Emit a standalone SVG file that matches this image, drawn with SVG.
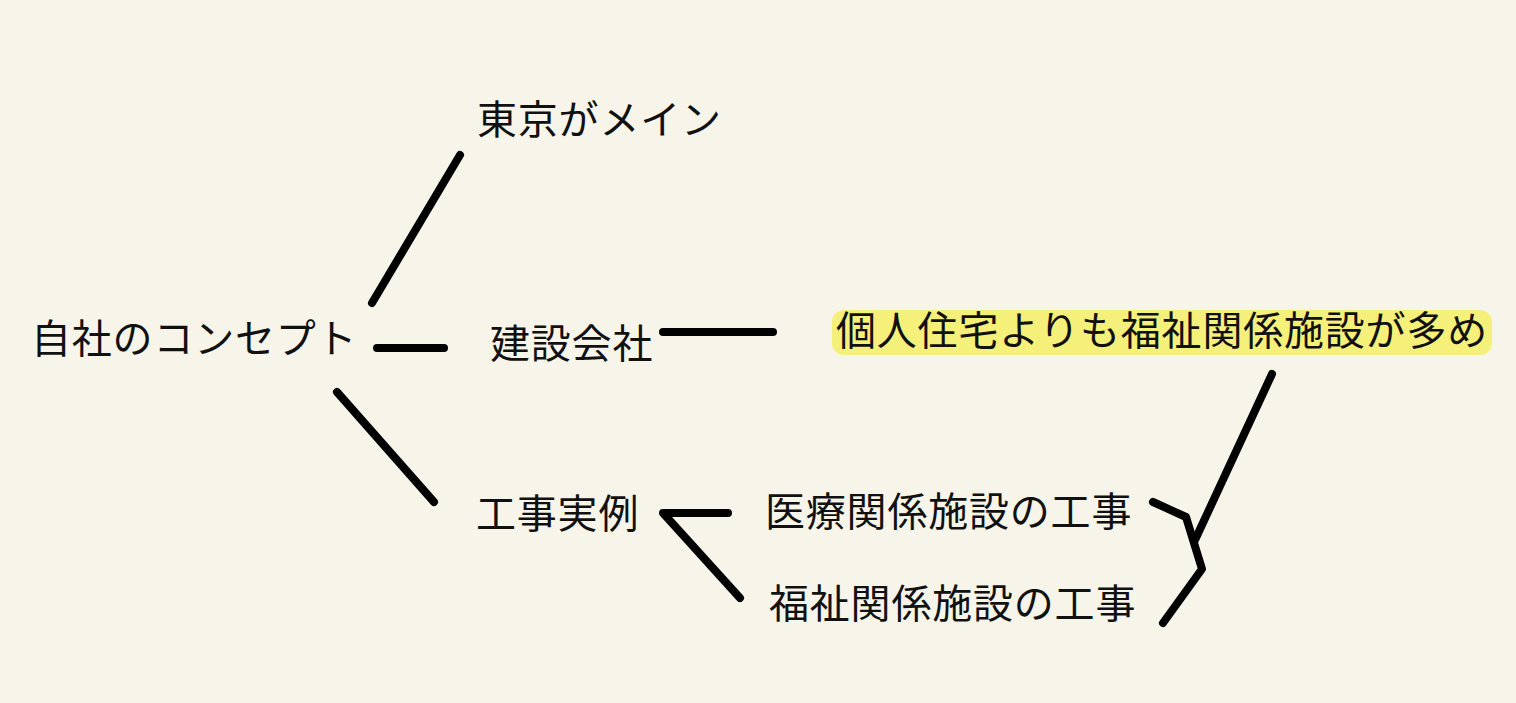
<svg xmlns="http://www.w3.org/2000/svg" width="1516" height="703" viewBox="0 0 1516 703">
<style>
.t{font-family:"Noto Sans CJK JP","Noto Sans CJK SC",sans-serif;font-size:40px;letter-spacing:0.8px;fill:#111}
.c{stroke:#000;stroke-width:8;stroke-linecap:round;stroke-linejoin:round;fill:none}
</style>
<rect width="1516" height="703" fill="#f7f5ea"/>
<g id="connectors">
<line class="c" x1="460" y1="155" x2="372" y2="303"/>
<line class="c" x1="377" y1="348" x2="444" y2="348"/>
<line class="c" x1="337" y1="392" x2="434" y2="502"/>
<line class="c" x1="663" y1="332" x2="773" y2="332"/>
<polyline class="c" points="728,513 663,513 740,598"/>
<line class="c" x1="1272" y1="374" x2="1195" y2="540"/>
<polyline class="c" points="1153,502 1186,517 1202,569 1163,623"/>
</g>
<g id="n-concept"><text class="t" x="31" y="353">自社のコンセプト</text></g>
<g id="n-tokyo"><text class="t" x="477" y="134">東京がメイン</text></g>
<g id="n-kensetsu"><text class="t" x="490" y="358">建設会社</text></g>
<g id="n-note"><rect x="832" y="310" width="660" height="45" rx="12" fill="#f5f07a"/><text class="t" x="836" y="345">個人住宅よりも福祉関係施設が多め</text></g>
<g id="n-jirei"><text class="t" x="476" y="528">工事実例</text></g>
<g id="n-iryo"><text class="t" x="765" y="526">医療関係施設の工事</text></g>
<g id="n-fukushi"><text class="t" x="769" y="618">福祉関係施設の工事</text></g>
</svg>
